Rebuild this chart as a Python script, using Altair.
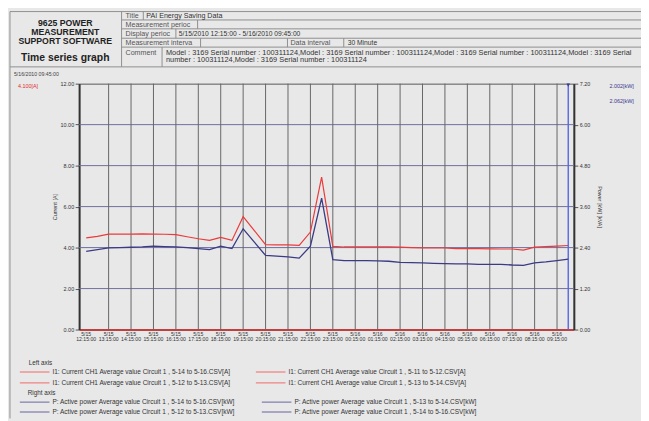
import altair as alt
import pandas as pd

FONT = "Liberation Sans"
PX0, PY0 = 80, 82          # page position of the plot origin
W, H = 501, 249            # plot area

# ---------------- data ----------------
times = pd.date_range("2010-05-15 12:15", "2010-05-16 09:45", freq="30min")
current_a = [4.47, 4.55, 4.66, 4.66, 4.66, 4.67, 4.66, 4.65, 4.63, 4.53,
             4.43, 4.35, 4.50, 4.35, 5.51, 4.83, 4.14, 4.13, 4.13, 4.11,
             4.76, 7.44, 4.06, 4.03, 4.03, 4.03, 4.03, 4.03, 4.02, 4.00,
             3.98, 3.98, 3.98, 3.95, 3.95, 3.95, 3.94, 3.93, 3.93, 3.88,
             4.02, 4.05, 4.07, 4.10]
power_kw = [2.29, 2.34, 2.39, 2.40, 2.41, 2.42, 2.44, 2.43, 2.42, 2.40,
            2.37, 2.34, 2.44, 2.37, 2.95, 2.56, 2.17, 2.15, 2.13, 2.09,
            2.44, 3.85, 2.05, 2.02, 2.02, 2.02, 2.01, 2.00, 1.97, 1.96,
            1.95, 1.94, 1.93, 1.92, 1.92, 1.91, 1.91, 1.91, 1.89, 1.88,
            1.95, 1.98, 2.02, 2.062]
tick_dates = ["5/15"] * 12 + ["5/16"] * 10
tick_times = ["12:15:00", "13:15:00", "14:15:00", "15:15:00", "16:15:00",
              "17:15:00", "18:15:00", "19:15:00", "20:15:00", "21:15:00",
              "22:15:00", "23:15:00", "00:15:00", "01:15:00", "02:15:00",
              "03:15:00", "04:15:00", "05:15:00", "06:15:00", "07:15:00",
              "08:15:00", "09:15:00"]
left_ticks = [0, 2, 4, 6, 8, 10, 12]
right_ticks = [0.0, 1.2, 2.4, 3.6, 4.8, 6.0, 7.2]
cursor_time = pd.Timestamp("2010-05-16 09:45")

legend_left = [
    "I1: Current CH1 Average value Circuit 1 , 5-14 to 5-16.CSV[A]",
    "I1: Current CH1 Average value Circuit 1 , 5-11 to 5-12.CSV[A]",
    "I1: Current CH1 Average value Circuit 1 , 5-12 to 5-13.CSV[A]",
    "I1: Current CH1 Average value Circuit 1 , 5-13 to 5-14.CSV[A]",
]
legend_right = [
    "P: Active power Average value Circuit 1 , 5-14 to 5-16.CSV[kW]",
    "P: Active power Average value Circuit 1 , 5-13 to 5-14.CSV[kW]",
    "P: Active power Average value Circuit 1 , 5-12 to 5-13.CSV[kW]",
    "P: Active power Average value Circuit 1 , 5-14 to 5-16.CSV[kW]",
]
comment_1 = ("Model : 3169 Serial number : 100311124,Model : 3169 Serial number : "
             "100311124,Model : 3169 Serial number : 100311124,Model : 3169 Serial")
comment_2 = "number : 100311124,Model : 3169 Serial number : 100311124"

# ---------------- tables ----------------
base = pd.Timestamp("2010-05-15 12:00")
HOUR = pd.Timedelta(hours=1)
df = pd.DataFrame({"h": (times - base) / HOUR, "current": current_a, "power": power_kw})
tick_ts = pd.to_datetime(["2010/" + d + " " + t for d, t in zip(tick_dates, tick_times)],
                         format="%Y/%m/%d %H:%M:%S")
ticks_df = pd.DataFrame({"h": (tick_ts - base) / HOUR,
                         "label": [d + "\n" + t for d, t in zip(tick_dates, tick_times)]})
grid_x_df = ticks_df.iloc[1:].reset_index(drop=True)
grid_y_df = pd.DataFrame({"current": left_ticks[1:-1]})
cursor_df = pd.DataFrame({"h": [(cursor_time - base) / HOUR]})
dummy = pd.DataFrame({"_": [0]})

xs = alt.Scale(domain=[-4 / 60, 22.0], nice=False, zero=False)
ysl = alt.Scale(domain=[0, 12], nice=False)
ysr = alt.Scale(domain=[0, 7.2], nice=False)

x_axis = alt.Axis(labels=False, ticks=False, grid=False, title=None,
                  domainColor="#c04040", domainWidth=2)
axis_style = dict(grid=False, format=".2f", labelFontSize=5.5, labelColor="#333",
                  labelFont=FONT, labelPadding=1.5, tickSize=4, tickColor="#555",
                  domainColor="#333", domainWidth=2, titleFontSize=5.5,
                  titleFontWeight="normal", titleColor="#333", titleFont=FONT,
                  titleY=H / 2, titleAlign="center", titleBaseline="middle")
left_axis = alt.Axis(values=left_ticks, title="Current [A]", orient="left",
                     titleX=-25, titleAngle=270, **axis_style)
right_axis = alt.Axis(values=right_ticks, title="Power [kW] [kVA]", orient="right",
                      titleX=26, titleAngle=90, **axis_style)
X = alt.X("h:Q", scale=xs, axis=x_axis)


# ---------------- decoration helpers (page coordinates) ----------------
def txt(s, x, y, size=6.6, color="#333", weight="normal", align="left"):
    return alt.Chart(dummy).mark_text(
        text=s, fontSize=size, color=color, fontWeight=weight, align=align,
        baseline="middle", font=FONT).encode(x=alt.value(x - PX0), y=alt.value(y - PY0))


def hline(x1, x2, y, color="#8e8e8e", w=1.0):
    return alt.Chart(dummy).mark_rule(color=color, strokeWidth=w).encode(
        x=alt.value(x1 - PX0), x2=alt.value(x2 - PX0), y=alt.value(y - PY0))


def vline(x, y1, y2, color="#8e8e8e", w=1.0):
    return alt.Chart(dummy).mark_rule(color=color, strokeWidth=w).encode(
        x=alt.value(x - PX0), y=alt.value(y1 - PY0), y2=alt.value(y2 - PY0))


LBL, VAL = 7.2, 7.2
decor = [
    # frame and header table
    hline(10, 649, 9), vline(10, 9, 421), hline(10, 649, 65),
    vline(123, 9, 65),
    hline(123, 649, 17.5), hline(123, 649, 26.5), hline(123, 649, 36), hline(123, 649, 45),
    vline(145, 9, 17.5), vline(200, 17.5, 26.5), vline(178, 26.5, 36),
    vline(203, 36, 45), vline(291, 36, 45), vline(348, 36, 45), vline(164, 45, 65),
    txt("9625 POWER", 66, 20.5, 8.8, "#222", "bold", "center"),
    txt("MEASUREMENT", 66, 29.5, 8.8, "#222", "bold", "center"),
    txt("SUPPORT SOFTWARE", 66, 38.5, 8.8, "#222", "bold", "center"),
    txt("Time series graph", 66, 56, 10.5, "#222", "bold", "center"),
    txt("Title", 127, 13.5, LBL, "#555"),
    txt("PAI Energy Saving Data", 148, 13.5, VAL, "#333"),
    txt("Measurement perioc", 127, 22.2, LBL, "#555"),
    txt("Display perioc", 127, 31.3, LBL, "#555"),
    txt("5/15/2010 12:15:00 - 5/16/2010 09:45:00", 181, 31.3, 6.8, "#333"),
    txt("Measurement interva", 127, 40.7, LBL, "#555"),
    txt("Data interval", 294, 40.7, LBL, "#555"),
    txt("30 Minute", 352, 40.7, 6.8, "#333"),
    txt("Comment", 127, 50.5, LBL, "#555"),
    txt(comment_1, 168, 50.5, 7.45, "#333"),
    txt(comment_2, 168, 58.5, 7.45, "#333"),
    # cursor read-outs
    txt(cursor_time.strftime("%-m/%-d/%Y %H:%M:%S"), 14, 72, 5.3, "#444"),
    txt(f"{current_a[-1]:.3f}[A]", 18, 84, 5.5, "#e03030"),
    txt("2.002[kW]", 617, 84, 5.5, "#3a3a8c"),
    txt(f"{power_kw[-1]:.3f}[kW]", 617, 100, 5.5, "#3a3a8c"),
    # legend
    txt("Left axis", 29, 364.5, 6.4, "#333"),
    txt("Right axis", 28, 395, 6.4, "#333"),
]
rows_left = [(374, 20, 50, 53), (374, 259, 289, 292), (385, 20, 50, 53), (385, 259, 289, 292)]
rows_right = [(404.5, 20, 50, 53), (404.5, 265, 295, 298), (414.5, 20, 50, 53), (414.5, 265, 295, 298)]
for (y, a, b, tx), label in zip(rows_left, legend_left):
    decor += [hline(a, b, y, "#f07c7c", 1.2), txt(label, tx, y, 6.6, "#333")]
for (y, a, b, tx), label in zip(rows_right, legend_right):
    decor += [hline(a, b, y, "#7a7aac", 1.2), txt(label, tx, y, 6.6, "#333")]

# ---------------- plot layers ----------------
hgrid = alt.Chart(grid_y_df).mark_rule(color="#6e6ea0", strokeWidth=1).encode(
    y=alt.Y("current:Q", scale=ysl, axis=left_axis))
vgrid = alt.Chart(grid_x_df).mark_rule(color="#666666", strokeWidth=1).encode(x=X)
red_line = alt.Chart(df).mark_line(color="#ec3a3a", strokeWidth=1.2).encode(
    x=X, y=alt.Y("current:Q", scale=ysl, axis=left_axis))
cursor_rule = alt.Chart(cursor_df).mark_rule(color="#5566e6", strokeWidth=1.4).encode(x=X)
cursor_tri = alt.Chart(cursor_df).mark_point(
    shape="triangle-down", filled=True, size=14, color="#3b3b99", opacity=1).encode(
    x=X, y=alt.value(1.5))
xlabels = alt.Chart(ticks_df).mark_text(
    lineBreak="\n", baseline="top", align="center", fontSize=5.2, lineHeight=5.0,
    color="#333", font=FONT).encode(x=X, y=alt.value(H + 2.5), text="label:N")

blue_line = alt.Chart(df).mark_line(color="#3a3a85", strokeWidth=1.3).encode(
    x=X, y=alt.Y("power:Q", scale=ysr, axis=right_axis))

left = alt.layer(hgrid, vgrid, red_line, cursor_rule, cursor_tri, xlabels, *decor)
right = alt.layer(blue_line)

chart = alt.layer(left, right).resolve_scale(y="independent").properties(
    width=W, height=H,
    padding={"left": 72, "top": 74, "right": 68, "bottom": 90},
    autosize=alt.AutoSizeParams(type="none"),
    background="#e8e8e8",
).configure_view(stroke="#555555", strokeWidth=1)

chart.save("out.html", embed_options={"renderer": "svg", "actions": False})
